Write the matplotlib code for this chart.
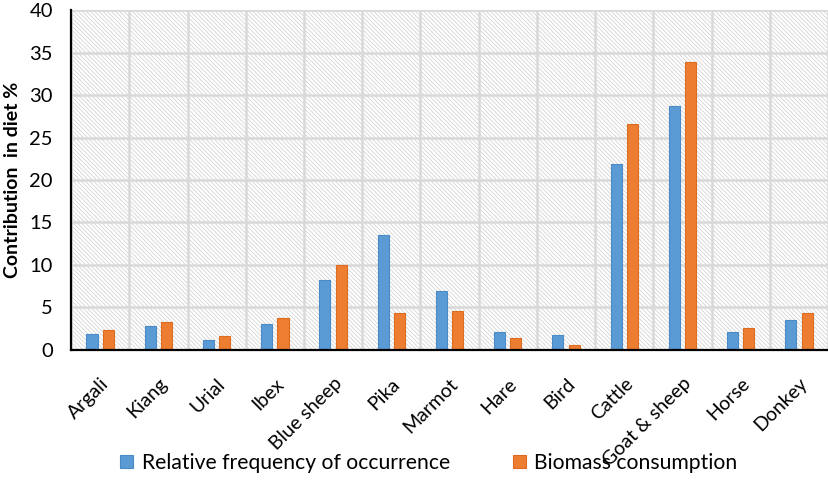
import matplotlib
matplotlib.use("Agg")
import matplotlib.pyplot as plt
import numpy as np
from matplotlib.patches import Rectangle

# Diet composition values
species = ["Argali", "Kiang", "Urial", "Ibex", "Blue sheep", "Pika", "Marmot",
           "Hare", "Bird", "Cattle", "Goat & sheep", "Horse", "Donkey"]
rel_freq = [1.9, 2.8, 1.2, 3.1, 8.2, 13.5, 6.9, 2.1, 1.8, 21.9, 28.7, 2.1, 3.5]
biomass = [2.3, 3.3, 1.6, 3.8, 10.0, 4.3, 4.6, 1.4, 0.6, 26.6, 33.9, 2.6, 4.3]

plt.rcParams["font.family"] = ["Lato", "DejaVu Sans"]
plt.rcParams["hatch.linewidth"] = 0.6
plt.rcParams["hatch.color"] = "#d4d4d4"

fig = plt.figure(figsize=(8.29, 4.88), dpi=100)
ax = fig.add_axes([0.0857, 0.2828, 0.9131, 0.6967])

x = np.arange(len(species))
ax.set_xlim(-0.5, len(species) - 0.5)
ax.set_ylim(0, 40)

# hatched background of the plot area
ax.add_patch(Rectangle((0, 0), 1, 1, transform=ax.transAxes, facecolor="white",
                       edgecolor="#d4d4d4", hatch="\\" * 8, linewidth=0, zorder=0))

bw = 0.19
off = 0.14
ax.bar(x - off, rel_freq, bw, color="#5B9BD5", edgecolor="#4A8AC6", linewidth=0.8,
       label="Relative frequency of occurrence", zorder=3)
ax.bar(x + off, biomass, bw, color="#ED7D31", edgecolor="#DC6C20", linewidth=0.8,
       label="Biomass consumption", zorder=3)

# grid: horizontal at major ticks, vertical between categories
ax.set_yticks(np.arange(0, 41, 5))
ax.set_xticks(x)
ax.set_xticks(np.arange(-0.5, len(species), 1), minor=True)
ax.grid(axis="y", which="major", color="#d9d9d9", linewidth=1.8, zorder=1)
ax.grid(axis="x", which="minor", color="#d9d9d9", linewidth=1.8, zorder=1)
ax.set_axisbelow(True)

ax.set_xticklabels(species, rotation=45, ha="right", rotation_mode="anchor", fontsize=14)
ax.tick_params(axis="y", labelsize=14.5, length=0, pad=13)
ax.tick_params(axis="x", which="both", length=0, pad=18)

for s in ["top", "right"]:
    ax.spines[s].set_visible(False)
ax.spines["left"].set_linewidth(1.6)
ax.spines["bottom"].set_linewidth(1.6)
ax.spines["left"].set_zorder(4)
ax.spines["bottom"].set_zorder(4)

ax.set_ylabel("Contribution  in diet %", fontsize=14, fontweight="bold", labelpad=6)

fig.legend(loc="center", bbox_to_anchor=(429 / 829, 1 - 463 / 488), ncol=2,
           frameon=False, fontsize=15.2, handlelength=0.6, handleheight=0.6,
           handletextpad=0.4, columnspacing=3.0)

fig.savefig("out.png", dpi=100)
